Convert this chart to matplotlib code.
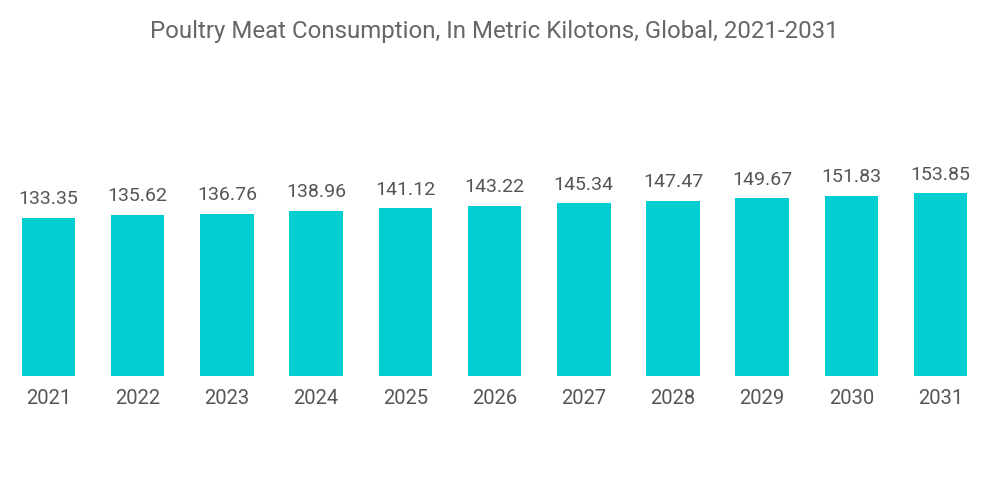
import matplotlib
matplotlib.use("Agg")
import matplotlib.pyplot as plt

years = ['2021', '2022', '2023', '2024', '2025', '2026', '2027', '2028', '2029', '2030', '2031']
values = [133.35, 135.62, 136.76, 138.96, 141.12, 143.22, 145.34, 147.47, 149.67, 151.83, 153.85]

plt.rcParams['font.family'] = ['Roboto', 'DejaVu Sans']
bar_color = '#00CED1'
text_color = '#555555'

fig = plt.figure(figsize=(10, 5.04), dpi=100)
# baseline at y=376 px, 1.1875 px per unit
ax = fig.add_axes([0.0039, (504 - 376) / 504, 0.9813, 276 / 504])

x = range(len(years))
ax.bar(x, values, width=0.6, color=bar_color)
for i, v in enumerate(values):
    ax.text(i, v + 8, '%.2f' % v, ha='center', va='bottom', fontsize=14, color=text_color)

ax.set_xlim(-0.5, len(years) - 0.5)
ax.set_ylim(0, 276 / 1.1875)
ax.set_xticks(list(x))
ax.set_xticklabels(years, fontsize=14.5, color=text_color)
ax.tick_params(axis='x', length=0, pad=9)
ax.set_yticks([])
for s in ax.spines.values():
    s.set_visible(False)

fig.text(0.494, 0.938, 'Poultry Meat Consumption, In Metric Kilotons, Global, 2021-2031',
         ha='center', va='center', fontsize=17.3, color='#666666')

fig.savefig('out.png', dpi=100)
